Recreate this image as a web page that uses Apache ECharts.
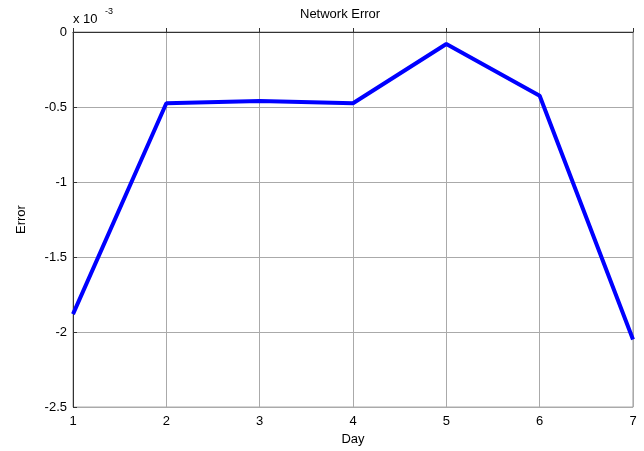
<!DOCTYPE html>
<html>
<head>
<meta charset="utf-8">
<script src="https://cdn.jsdelivr.net/npm/echarts@6/dist/echarts.min.js"></script>
<style>html,body{margin:0;padding:0;background:#fff;overflow:hidden}#c{width:644px;height:451px}</style>
</head>
<body>
<div id="c"></div>
<script>
// Data (error values in units of 1e-3)
var days = [1, 2, 3, 4, 5, 6, 7];
var errorVals = [-1.88, -0.475, -0.46, -0.475, -0.08, -0.425, -2.05];
var yTicks = [0, -0.5, -1, -1.5, -2, -2.5];
var titleText = 'Network Error';
var xName = 'Day';
var yName = 'Error';

var FONT = 'Liberation Sans, Arial, sans-serif';
var chart = echarts.init(document.getElementById('c'), null, {renderer: 'canvas', width: 644, height: 451});
var pts = days.map(function (d, i) { return [d, errorVals[i]]; });

chart.setOption({
  animation: false,
  backgroundColor: '#fff',
  title: {
    text: titleText, left: 295, top: 3,
    textStyle: {fontFamily: FONT, fontSize: 13, fontWeight: 'normal', color: '#000'}
  },
  grid: {left: 73, top: 32, width: 560, height: 380, show: true, borderColor: '#999', borderWidth: 1, backgroundColor: 'transparent'},
  xAxis: {
    type: 'value', min: 1, max: 7, interval: 1,
    name: xName, nameLocation: 'middle', nameGap: 24,
    nameTextStyle: {fontFamily: FONT, fontSize: 13, color: '#000'},
    axisLine: {show: true, lineStyle: {color: '#333', width: 1}},
    axisTick: {show: true, inside: true, length: 4, lineStyle: {color: '#333'}},
    axisLabel: {fontFamily: FONT, fontSize: 13, color: '#000', margin: 8},
    splitLine: {show: true, lineStyle: {color: '#aaa', width: 1}}
  },
  yAxis: {
    type: 'value', min: yTicks[yTicks.length - 1], max: yTicks[0], interval: 0.5,
    name: yName, nameLocation: 'middle', nameGap: 45, nameRotate: 90,
    nameTextStyle: {fontFamily: FONT, fontSize: 13, color: '#000'},
    axisLine: {show: true, lineStyle: {color: '#333', width: 1}},
    axisTick: {show: true, inside: true, length: 4, lineStyle: {color: '#333'}},
    axisLabel: {fontFamily: FONT, fontSize: 13, color: '#000', margin: 6},
    splitLine: {show: true, lineStyle: {color: '#aaa', width: 1}}
  },
  graphic: [
    {type: 'text', left: 73, top: 13, style: {text: 'x 10', font: '13px ' + FONT, fill: '#000'}},
    {type: 'text', left: 105, top: 7, style: {text: '-3', font: '9px ' + FONT, fill: '#000'}}
  ],
  series: [{
    type: 'line', data: pts, showSymbol: false, symbol: 'none',
    lineStyle: {color: '#0000ff', width: 4}, itemStyle: {color: '#0000ff'}
  }]
});
</script>
</body>
</html>
